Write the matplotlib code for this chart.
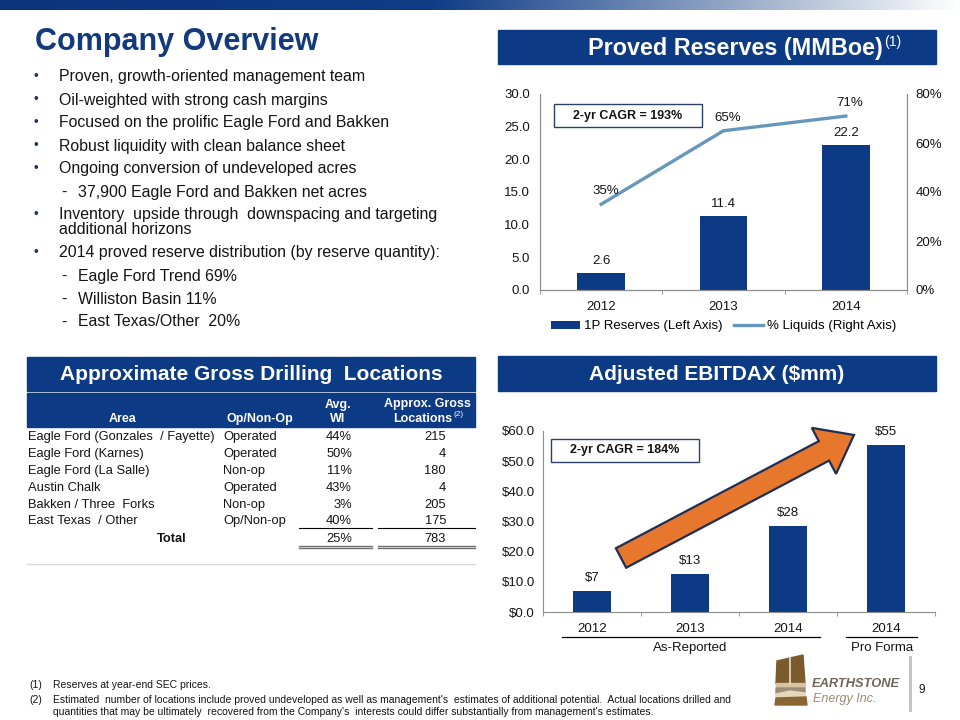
import matplotlib
matplotlib.use("Agg")
import matplotlib.pyplot as plt
import numpy as np
from matplotlib.patches import Rectangle, Polygon, FancyArrow
from matplotlib.colors import LinearSegmentedColormap

plt.rcParams['font.family'] = ['Liberation Sans', 'DejaVu Sans']

# ---------------- data ----------------
bullets = [
    (0, "Proven, growth-oriented management team"),
    (0, "Oil-weighted with strong cash margins"),
    (0, "Focused on the prolific Eagle Ford and Bakken"),
    (0, "Robust liquidity with clean balance sheet"),
    (0, "Ongoing conversion of undeveloped acres"),
    (1, "37,900 Eagle Ford and Bakken net acres"),
    (0, "Inventory  upside through  downspacing and targeting"),
    (2, "additional horizons"),
    (0, "2014 proved reserve distribution (by reserve quantity):"),
    (1, "Eagle Ford Trend 69%"),
    (1, "Williston Basin 11%"),
    (1, "East Texas/Other  20%"),
]
bullet_y = [77, 100, 123, 146, 169, 192, 215, 229, 253, 276, 299, 322]

reserve_years = ["2012", "2013", "2014"]
reserves_mmboe = [2.6, 11.4, 22.2]
liquids_pct = [35, 65, 71]
reserves_cagr = "2-yr CAGR = 193%"

ebitdax_labels = ["2012", "2013", "2014", "2014"]
ebitdax_values = [7.0, 12.7, 28.4, 55.3]
ebitdax_cagr = "2-yr CAGR = 184%"

table_area = ["Eagle Ford (Gonzales  / Fayette)", "Eagle Ford (Karnes)", "Eagle Ford (La Salle)",
              "Austin Chalk", "Bakken / Three  Forks", "East Texas  / Other"]
table_op = ["Operated", "Operated", "Non-op", "Operated", "Non-op", "Op/Non-op"]
table_wi = ["44%", "50%", "11%", "43%", "3%", "40%"]
table_loc = ["215", "4", "180", "4", "205", "175"]
table_total_wi = "25%"
table_total_loc = "783"

footnotes = [
    ("(1)", "Reserves at year-end SEC prices."),
    ("(2)", "Estimated  number of locations include proved undeveloped as well as management's  estimates of additional potential.  Actual locations drilled and\nquantities that may be ultimately  recovered from the Company's  interests could differ substantially from management's estimates."),
]

NAVY = "#0c3a85"
TITLE = "#123a7c"
LINEC = "#6597bd"
TXT = "#141414"
SPINE = "#8c8c8c"
FS = 9.5

W, H = 960, 720
fig = plt.figure(figsize=(9.6, 7.2), dpi=100)

def fr(x0, y0, x1, y1):
    return [x0 / W, 1 - y1 / H, (x1 - x0) / W, (y1 - y0) / H]

# ---------------- Proved reserves chart ----------------
ax1 = fig.add_axes(fr(540, 94, 907, 290))
x = np.arange(len(reserve_years))
ax1.bar(x, reserves_mmboe, width=0.39, color=NAVY, zorder=2, label="1P Reserves (Left Axis)")
ax1.set_xlim(-0.5, 2.5)
ax1.set_ylim(0, 30)
ax1.set_yticks(np.arange(0, 30.1, 5))
ax1.set_yticklabels([f"{v:.1f}" for v in np.arange(0, 30.1, 5)])
ax1.set_xticks(x)
ax1.set_xticklabels(reserve_years)
ax1.tick_params(axis='y', length=0, labelsize=FS, colors=TXT, pad=7)
ax1.tick_params(axis='x', length=0, labelsize=FS, colors=TXT, pad=8)
ax1.set_xticks([-0.5, 0.5, 1.5, 2.5], minor=True)
ax1.tick_params(axis='x', which='minor', length=3, color=SPINE)
ax1.spines['top'].set_visible(False)
for s in ['left', 'bottom', 'right']:
    ax1.spines[s].set_color(SPINE)
for xi, v in zip(x, reserves_mmboe):
    ax1.annotate(f"{v:.1f}", (xi, v), xytext=(0, 4), textcoords='offset points',
                 ha='center', va='bottom', fontsize=FS, color=TXT)
ax1r = ax1.twinx()
ax1r.plot(x, liquids_pct, color=LINEC, lw=2.4, label="% Liquids (Right Axis)")
ax1r.set_ylim(0, 80)
ax1r.set_yticks([0, 20, 40, 60, 80])
ax1r.set_yticklabels([f"{v}%" for v in [0, 20, 40, 60, 80]])
ax1r.tick_params(axis='y', length=0, labelsize=FS, colors=TXT, pad=6)
ax1r.spines['top'].set_visible(False)
for s in ['left', 'bottom', 'right']:
    ax1r.spines[s].set_color(SPINE)
for xi, v in zip(x, liquids_pct):
    ax1r.annotate(f"{v}%", (xi, v), xytext=(3, 5), textcoords='offset points',
                  ha='center', va='bottom', fontsize=FS, color=TXT)
h1, l1 = ax1.get_legend_handles_labels()
h2, l2 = ax1r.get_legend_handles_labels()
ax1.legend(h1 + h2, l1 + l2, loc='upper center', bbox_to_anchor=(0.5, -0.115), ncol=2,
           frameon=False, fontsize=FS, handlelength=2.2, handleheight=0.6,
           columnspacing=0.9, handletextpad=0.3, borderaxespad=0.2)

# ---------------- EBITDAX chart ----------------
ax2 = fig.add_axes(fr(543, 431, 935, 612))
x2 = np.arange(len(ebitdax_values))
ax2.bar(x2, ebitdax_values, width=0.395, color=NAVY, zorder=2)
ax2.set_xlim(-0.5, 3.5)
ax2.set_ylim(0, 60)
ax2.set_yticks(np.arange(0, 60.1, 10))
ax2.set_yticklabels([f"${v:.1f}" for v in np.arange(0, 60.1, 10)])
ax2.set_xticks(x2)
ax2.set_xticklabels(ebitdax_labels)
ax2.tick_params(axis='y', length=0, labelsize=FS, colors=TXT, pad=6)
ax2.tick_params(axis='x', length=0, labelsize=FS, colors=TXT, pad=8)
ax2.set_xticks([-0.5, 0.5, 1.5, 2.5, 3.5], minor=True)
ax2.tick_params(axis='x', which='minor', length=3, color=SPINE)
ax2.spines['top'].set_visible(False)
ax2.spines['right'].set_visible(False)
for s in ['left', 'bottom']:
    ax2.spines[s].set_color(SPINE)
for xi, v in zip(x2, ebitdax_values):
    ax2.annotate(f"${v:.0f}", (xi, v), xytext=(0, 5), textcoords='offset points',
                 ha='center', va='bottom', fontsize=FS, color=TXT)

# ---------------- overlay ----------------
ov = fig.add_axes([0, 0, 1, 1], zorder=10)
ov.axis('off')
ov.patch.set_alpha(0)

# top gradient bar
cmap = LinearSegmentedColormap.from_list("g", [(0, "#0b347c"), (0.45, "#0e3c86"), (0.75, "#8ea3c4"), (1.0, "#ffffff")])
grad = np.linspace(0, 1, 512).reshape(1, -1)
ov.imshow(grad, extent=(0, W, 10, 0), cmap=cmap, aspect='auto', zorder=1)
ov.set_xlim(0, W)
ov.set_ylim(H, 0)

ov.text(35, 42, "Company Overview", fontsize=22, fontweight='bold', color=TITLE, va='center', ha='left')

# headers
def header(x0, y0, x1, y1, text, fs=15, sup=None, xr=None):
    ov.add_patch(Rectangle((x0, y0), x1 - x0, y1 - y0, color=NAVY, zorder=2))
    yc = (y0 + y1) / 2
    if sup is None:
        ov.text((x0 + x1) / 2, yc + 1, text, color='white', fontsize=fs, fontweight='bold',
                ha='center', va='center', zorder=3)
    else:
        ov.text(xr, yc + 1, text, color='white', fontsize=fs, fontweight='bold',
                ha='right', va='center', zorder=3)
        ov.text(xr + 1, yc - 5, sup, color='white', fontsize=fs * 0.6,
                ha='left', va='center', zorder=3)

header(498, 30, 936, 64, "Proved Reserves (MMBoe)", fs=16.8, sup="(1)", xr=883)
header(27, 357, 475, 391, "Approximate Gross Drilling  Locations", fs=15)
header(498, 356, 936, 391, "Adjusted EBITDAX ($mm)", fs=15)

# bullets
BFS = 11.4
for (lvl, t), y in zip(bullets, bullet_y):
    if lvl == 0:
        ov.text(34, y, "•", fontsize=9.5, color="#1b2f6b", va='center', ha='left')
        ov.text(59, y, t, fontsize=BFS, color=TXT, va='center', ha='left')
    elif lvl == 2:
        ov.text(59, y, t, fontsize=BFS, color=TXT, va='center', ha='left')
    else:
        ov.text(61, y, "-", fontsize=BFS, color=TXT, va='center', ha='left')
        ov.text(78, y, t, fontsize=BFS, color=TXT, va='center', ha='left')

# CAGR boxes
def cagr_box(x0, y0, x1, y1, text):
    ov.add_patch(Rectangle((x0, y0), x1 - x0, y1 - y0, facecolor='white', edgecolor="#2b3f63",
                           lw=1.0, zorder=4))
    ov.text((x0 + x1) / 2, (y0 + y1) / 2, text, fontsize=9, fontweight='bold', color=TXT,
            ha='center', va='center', zorder=5)

cagr_box(554, 104, 702, 127, reserves_cagr)
cagr_box(551, 439, 699, 462, ebitdax_cagr)

# orange arrow
ov.add_patch(FancyArrow(621, 558, 233, -123, width=22, head_width=52, head_length=34,
                        length_includes_head=True, facecolor="#e8772e", edgecolor="#1e2e55",
                        lw=1.6, zorder=6))

# EBITDAX group labels
ov.plot([562, 820], [637, 637], color='black', lw=0.9)
ov.text(690, 648, "As-Reported", fontsize=FS, color=TXT, ha='center', va='center')
ov.plot([846, 917], [637, 637], color='black', lw=0.9)
ov.text(882, 648, "Pro Forma", fontsize=FS, color=TXT, ha='center', va='center')

# table header row
ov.add_patch(Rectangle((27, 393), 448, 34, color=NAVY, zorder=2))
hkw = dict(fontsize=9, fontweight='bold', color='white', va='center', zorder=3)
ov.text(123, 419, "Area", ha='center', **hkw)
ov.text(260, 419, "Op/Non-Op", ha='center', **hkw)
ov.text(338, 405, "Avg.", ha='center', **hkw)
ov.text(338, 419, "WI", ha='center', **hkw)
ov.text(427, 404, "Approx. Gross", ha='center', **hkw)
ov.text(452, 419, "Locations", ha='right', **hkw)
ov.text(453, 415, "(2)", ha='left', fontsize=6, color='white', va='center', zorder=3)

TFS = 9.3
row_y = [437, 454, 471, 488, 505, 521]
for a, o, w, l, y in zip(table_area, table_op, table_wi, table_loc, row_y):
    ov.text(28, y, a, fontsize=TFS, color=TXT, ha='left', va='center')
    ov.text(223, y, o, fontsize=TFS, color=TXT, ha='left', va='center')
    ov.text(352, y, w, fontsize=TFS, color=TXT, ha='right', va='center')
    ov.text(446, y, l, fontsize=TFS, color=TXT, ha='right', va='center')
ov.plot([299, 372], [528, 528], color='black', lw=0.8)
ov.plot([378, 475], [528, 528], color='black', lw=0.8)
ov.text(172, 539, "Total", fontsize=TFS, fontweight='bold', color=TXT, ha='center', va='center')
ov.text(352, 539, table_total_wi, fontsize=TFS, color=TXT, ha='right', va='center')
ov.text(446, 539, table_total_loc, fontsize=TFS, color=TXT, ha='right', va='center')
for y in (546.3, 548.3):
    ov.plot([299, 372], [y, y], color='#6e6e6e', lw=1.0)
    ov.plot([378, 475], [y, y], color='#6e6e6e', lw=1.0)
ov.plot([27, 475], [564, 564], color='#d8d8d8', lw=1.0)

# footnotes
fkw = dict(fontsize=7.5, color=TXT, va='center')
ov.text(29, 685, footnotes[0][0], ha='left', **fkw)
ov.text(53, 685, footnotes[0][1], ha='left', **fkw)
ov.text(29, 700, footnotes[1][0], ha='left', **fkw)
l1_, l2_ = footnotes[1][1].split("\n")
ov.text(53, 700, l1_, ha='left', **fkw)
ov.text(53, 712, l2_, ha='left', **fkw)

# logo
ov.add_patch(Polygon([(777, 661), (803, 655), (805, 684), (776, 684)], closed=True, color="#7b5a2e", zorder=3))
ov.plot([790, 790], [658, 684], color="#e9dcc3", lw=1.2, zorder=4)
ov.add_patch(Polygon([(776, 683), (805, 683), (805, 688), (776, 688)], closed=True, color="#d8c4a0", zorder=3))
ov.add_patch(Polygon([(776, 688), (805, 688), (805, 693), (790, 691), (776, 694)], closed=True, color="#9c8d78", zorder=3))
ov.add_patch(Polygon([(776, 694), (790, 691), (805, 693), (806, 697), (776, 698)], closed=True, color="#e6d7bb", zorder=3))
ov.add_patch(Polygon([(776, 698), (806, 697), (807, 705), (775, 705)], closed=True, color="#8a6634", zorder=3))
ov.text(812, 684, "EARTHSTONE", fontsize=9.3, fontweight='bold', style='italic', color="#6f6558",
        ha='left', va='center')
ov.text(813, 699, "Energy Inc.", fontsize=9, style='italic', color="#9b8a72", ha='left', va='center')
ov.plot([910, 910], [657, 710], color="#c0c0c0", lw=2)
ov.text(922, 690, "9", fontsize=8.5, color=TXT, ha='center', va='center')

fig.savefig("out.png", dpi=100)
